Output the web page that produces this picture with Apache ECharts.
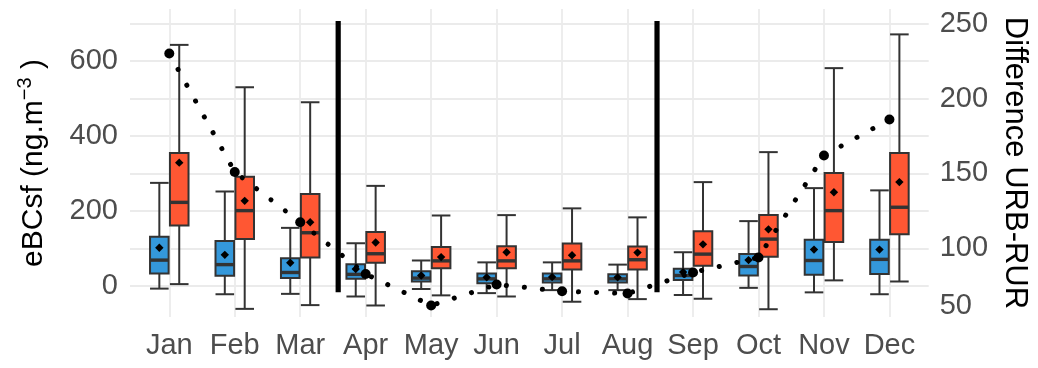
<!DOCTYPE html>
<html><head><meta charset="utf-8">
<script src="https://cdn.jsdelivr.net/npm/echarts@6/dist/echarts.min.js"></script>
<style>html,body{margin:0;padding:0;background:#fff}#c{width:1038px;height:368px}</style>
</head><body><div id="c"></div>
<script>
// ---------- data ----------
const months = ['Jan','Feb','Mar','Apr','May','Jun','Jul','Aug','Sep','Oct','Nov','Dec'];
// [lower whisker, Q1, median, Q3, upper whisker]
const rurBoxes = [
  [-7, 33, 69, 131, 275],
  [-22, 27, 57, 120, 252],
  [-21, 21, 36, 74, 155],
  [-28, 19, 31, 58, 114],
  [-8, 12, 21, 39, 68],
  [-19, 7, 19, 33, 63],
  [-11, 9, 19, 33, 63],
  [-11, 9, 19, 31, 57],
  [-24, 16, 28, 46, 90],
  [-5, 28, 52, 85, 173],
  [-17, 30, 68, 123, 261],
  [-22, 32, 71, 123, 255]
];
const rurMeans = [102, 83, 62, 45, 28, 23, 24, 23, 37, 69, 97, 97];
const urbBoxes = [
  [5, 161, 223, 355, 643],
  [-61, 125, 201, 291, 530],
  [-51, 76, 142, 245, 490],
  [-52, 62, 86, 144, 267],
  [-25, 47, 67, 104, 188],
  [-28, 47, 67, 106, 189],
  [-42, 44, 67, 113, 207],
  [-35, 44, 70, 105, 183],
  [-34, 54, 85, 146, 277],
  [-62, 78, 125, 189, 357],
  [15, 117, 201, 301, 581],
  [12, 138, 210, 355, 671]
];
const urbMeans = [329, 227, 170, 116, 77, 90, 82, 89, 111, 151, 250, 277];
const diffValues = [230, 151, 117.5, 83, 62, 76, 71.5, 70, 84, 94, 162, 186];
const leftTickValues = [0, 200, 400, 600];
const leftGridValues = [0, 100, 200, 300, 400, 500, 600, 700];
const rightTickValues = [61.7, 100, 150, 200, 250];
const rightTickLabels = ['50', '100', '150', '200', '250'];
const separatorX = [2.58, 7.45];
const separatorSpan = [-17, 707];

// ---------- chart ----------
const FONT = 'Liberation Sans, Arial, sans-serif';
const L_MIN = -82.7, L_MAX = 738.7;
const toRight = v => 75 + v / 4;
const monthIdx = months.map((m, i) => i);

function boxData(boxes, means) { return boxes.map((b, i) => [i].concat(b, [means[i]])); }

function makeRender(offset, fill) {
  return function (params, api) {
    const i = api.value(0);
    const off = api.size([Math.abs(offset), 0])[0] * Math.sign(offset);
    const half = api.size([0.142, 0])[0];
    const cx = api.coord([i, 0])[0] + off;
    const y = k => api.coord([i, api.value(k)])[1];
    const yLo = y(1), yQ1 = y(2), yMed = y(3), yQ3 = y(4), yHi = y(5), yMean = y(6);
    const ls = { stroke: '#333333', lineWidth: 2 };
    const d = 4.2;
    return {
      type: 'group',
      children: [
        { type: 'line', shape: { x1: cx, y1: yQ1, x2: cx, y2: yLo }, style: ls },
        { type: 'line', shape: { x1: cx, y1: yQ3, x2: cx, y2: yHi }, style: ls },
        { type: 'line', shape: { x1: cx - half, y1: yLo, x2: cx + half, y2: yLo }, style: ls },
        { type: 'line', shape: { x1: cx - half, y1: yHi, x2: cx + half, y2: yHi }, style: ls },
        { type: 'rect', shape: { x: cx - half, y: yQ3, width: 2 * half, height: yQ1 - yQ3 },
          style: { fill: fill, stroke: '#333333', lineWidth: 2 } },
        { type: 'line', shape: { x1: cx - half, y1: yMed, x2: cx + half, y2: yMed },
          style: { stroke: '#333333', lineWidth: 3.4 } },
        { type: 'polygon', shape: { points: [[cx, yMean - d], [cx + d, yMean], [cx, yMean + d], [cx - d, yMean]] },
          style: { fill: '#000000' } }
      ]
    };
  };
}

const chart = echarts.init(document.getElementById('c'), null, { renderer: 'canvas' });
chart.setOption({
  animation: false,
  backgroundColor: '#ffffff',
  grid: { left: 130, right: 106, top: 9, bottom: 51, containLabel: false },
  xAxis: {
    type: 'value', min: -0.6, max: 11.6,
    axisLine: { show: false },
    axisTick: { show: false, customValues: monthIdx },
    axisLabel: {
      customValues: monthIdx,
      formatter: v => months[Math.round(v)],
      color: '#4D4D4D', fontSize: 29, fontFamily: FONT, margin: 14
    },
    splitLine: { show: true, lineStyle: { color: '#EBEBEB', width: 1.8 } }
  },
  yAxis: [
    {
      type: 'value', min: L_MIN, max: L_MAX, position: 'left',
      name: '{a|eBCsf (ng.m}{s|−3}{a| )}',
      nameLocation: 'middle', nameRotate: 90, nameGap: 77,
      nameTextStyle: {
        rich: {
          a: { fontSize: 30, color: '#000000', fontFamily: FONT, lineHeight: 38 },
          s: { fontSize: 20, color: '#000000', fontFamily: FONT, lineHeight: 16, verticalAlign: 'top' }
        }
      },
      axisLine: { show: false },
      axisTick: { show: false, customValues: leftGridValues },
      axisLabel: { customValues: leftTickValues, color: '#4D4D4D', fontSize: 29, fontFamily: FONT, margin: 12 },
      splitLine: { show: true, lineStyle: { color: '#EBEBEB', width: 1.8 } }
    },
    {
      type: 'value', min: toRight(L_MIN), max: toRight(L_MAX), position: 'right',
      name: 'Difference URB-RUR',
      nameLocation: 'middle', nameRotate: -90, nameGap: 66,
      nameTextStyle: { fontSize: 31, color: '#000000', fontFamily: FONT },
      axisLine: { show: false },
      axisTick: { show: false },
      axisLabel: {
        customValues: rightTickValues,
        formatter: v => {
          let best = 0;
          rightTickValues.forEach((t, k) => { if (Math.abs(t - v) < Math.abs(rightTickValues[best] - v)) best = k; });
          return rightTickLabels[best];
        },
        color: '#4D4D4D', fontSize: 29, fontFamily: FONT, margin: 11
      },
      splitLine: { show: false }
    }
  ],
  series: [
    {
      name: 'RUR', type: 'custom', xAxisIndex: 0, yAxisIndex: 0,
      data: boxData(rurBoxes, rurMeans),
      encode: { x: 0, y: [1, 5] },
      renderItem: makeRender(-0.152, '#3498DB'), z: 2
    },
    {
      name: 'URB', type: 'custom', xAxisIndex: 0, yAxisIndex: 0,
      data: boxData(urbBoxes, urbMeans),
      encode: { x: 0, y: [1, 5] },
      renderItem: makeRender(0.152, '#FF5733'), z: 2
    },
    {
      name: 'Difference', type: 'line', xAxisIndex: 0, yAxisIndex: 1,
      data: diffValues.map((v, i) => [i, v]),
      symbol: 'circle', symbolSize: 10,
      itemStyle: { color: '#000000' },
      lineStyle: { color: '#000000', width: 5, type: [0.1, 18], cap: 'round' },
      z: 5
    },
    {
      name: 'separators', type: 'custom', xAxisIndex: 0, yAxisIndex: 0,
      data: separatorX.map(x => [x, separatorSpan[0], separatorSpan[1]]),
      encode: { x: 0, y: [1, 2] },
      renderItem: function (params, api) {
        const p0 = api.coord([api.value(0), api.value(1)]);
        const p1 = api.coord([api.value(0), api.value(2)]);
        return { type: 'line', shape: { x1: p0[0], y1: p0[1], x2: p1[0], y2: p1[1] },
          style: { stroke: '#000000', lineWidth: 5.2 } };
      },
      z: 6
    }
  ]
});
</script>
</body></html>
